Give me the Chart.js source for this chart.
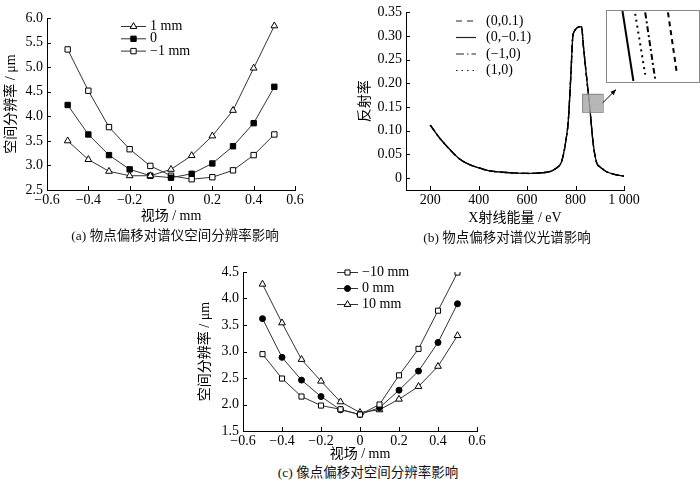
<!DOCTYPE html>
<html><head><meta charset="utf-8">
<script src="https://cdn.jsdelivr.net/npm/chart.js@4.4.0/dist/chart.umd.min.js"></script>
<style>
body{margin:0;background:#fff;width:700px;height:481px;position:relative;overflow:hidden;}
.c{position:absolute;}
.cap{position:absolute;font-family:"Liberation Serif","Noto Sans CJK SC";font-size:13.5px;line-height:16px;color:#111;white-space:nowrap;transform:translate(-50%,-50%);}
#insetBox{position:absolute;left:606px;top:10px;width:94px;height:73px;border:1.5px solid #888;box-sizing:border-box;background:#fff;}
</style></head>
<body>
<div class="c" style="left:0;top:0;"><canvas id="ca" width="320" height="228"></canvas></div>
<div class="c" style="left:340px;top:0;"><canvas id="cb" width="360" height="228"></canvas></div>
<div class="c" style="left:190px;top:258px;"><canvas id="cc" width="310" height="206"></canvas></div>
<div id="insetBox"><canvas id="ci" width="91" height="70"></canvas></div>
<div class="cap" style="left:175px;top:236px;">(a) 物点偏移对谱仪空间分辨率影响</div>
<div class="cap" style="left:507px;top:238px;">(b) 物点偏移对谱仪光谱影响</div>
<div class="cap" style="left:368px;top:473px;">(c) 像点偏移对空间分辨率影响</div>
<script>
// ---------- data ----------
const fieldX = [-0.5,-0.4,-0.3,-0.2,-0.1,0,0.1,0.2,0.3,0.4,0.5];
// (a) object point offset
const objLabels = ["1 mm","0","\u22121 mm"];
const objPlus1  = [3.50,3.12,2.88,2.79,2.79,2.92,3.20,3.60,4.12,4.98,5.84];
const objZero   = [4.23,3.63,3.21,2.92,2.79,2.75,2.83,3.04,3.39,3.86,4.60];
const objMinus1 = [5.36,4.52,3.78,3.33,2.99,2.79,2.72,2.76,2.90,3.21,3.63];
// (c) image point offset
const imgLabels = ["\u221210 mm","0 mm","10 mm"];
const imgMinus10 = [2.95,2.49,2.15,1.98,1.91,1.81,2.00,2.55,3.05,3.77,4.49];
const imgZero    = [3.62,2.89,2.46,2.15,1.90,1.81,1.94,2.27,2.63,3.17,3.90];
const imgPlus10  = [4.27,3.54,2.85,2.44,2.05,1.85,1.90,2.10,2.34,2.72,3.30];
// (b) spectrum
const specLabels = ["(0,0.1)","(0,\u22120.1)","(\u22121,0)","(1,0)"];
const energy = [200,240,280,320,360,400,440,500,560,600,640,680,700,720,740,750,760,770,780,790,825,832,846,860,873,887,900,915,930,960,1000];
const reflect = [0.112,0.084,0.061,0.041,0.029,0.022,0.016,0.0125,0.0105,0.0100,0.0105,0.0125,0.015,0.021,0.032,0.050,0.079,0.121,0.211,0.305,0.320,0.281,0.211,0.142,0.072,0.033,0.024,0.018,0.013,0.008,0.004];
// inset line end points (normalized inset coordinates), order as specLabels
const insetTopX    = [0.67,0.17,0.42,0.31];
const insetTopY    = [0.98,1.00,0.98,0.96];
const insetBottomX = [0.77,0.29,0.53,0.42];
const insetBottomY = [0.09,0.00,0.02,0.09];
// tick values and labels
const fieldTicks = [-0.6,-0.4,-0.2,0,0.2,0.4,0.6];
const fieldTickLabels = ["\u22120.6","\u22120.4","\u22120.2","0","0.2","0.4","0.6"];
const resTicksA = [2.5,3.0,3.5,4.0,4.5,5.0,5.5,6.0];
const resTickLabelsA = ["2.5","3.0","3.5","4.0","4.5","5.0","5.5","6.0"];
const resTicksC = [1.5,2.0,2.5,3.0,3.5,4.0,4.5];
const resTickLabelsC = ["1.5","2.0","2.5","3.0","3.5","4.0","4.5"];
const energyTicks = [200,400,600,800,1000];
const energyTickLabels = ["200","400","600","800","1 000"];
const reflTicks = [0,0.05,0.10,0.15,0.20,0.25,0.30,0.35];
const reflTickLabels = ["0","0.05","0.10","0.15","0.20","0.25","0.30","0.35"];
// zoom region (b)
const zoomRegion = {x0:827, x1:912, y0:0.140, y1:0.178};
const arrowFrom = {x:912, y:0.159};
const arrowTo = {x:967, y:0.187};

// ---------- helpers ----------
const FAM = '"Liberation Serif", "Noto Sans CJK SC", serif';
Chart.defaults.font.family = FAM;
Chart.defaults.color = '#000';

function drawMarker(ctx, style, r, x, y, fill){
  ctx.save();
  ctx.fillStyle = fill; ctx.strokeStyle = '#000'; ctx.lineWidth = 1; ctx.setLineDash([]);
  ctx.beginPath();
  if(style==='triangle'){
    ctx.moveTo(x, y - r);
    ctx.lineTo(x + r*Math.sin(Math.PI/3), y + r/2);
    ctx.lineTo(x - r*Math.sin(Math.PI/3), y + r/2);
    ctx.closePath();
  } else if(style==='rect'){
    const s = r*Math.SQRT1_2;
    ctx.rect(x-s, y-s, 2*s, 2*s);
  } else {
    ctx.arc(x, y, r, 0, Math.PI*2);
  }
  ctx.fill(); ctx.stroke();
  ctx.restore();
}

const insideTicks = {
  id:'insideTicks',
  afterDraw(chart, args, opts){
    if(!opts || !opts.enabled) return;
    const ctx = chart.ctx, len = opts.len || 4;
    const xs = chart.scales.x, ys = chart.scales.y;
    ctx.save(); ctx.strokeStyle = '#000'; ctx.lineWidth = 1;
    xs.ticks.forEach(t=>{
      const p = Math.round(xs.getPixelForValue(t.value)) + 0.5;
      ctx.beginPath(); ctx.moveTo(p, xs.top); ctx.lineTo(p, xs.top - len); ctx.stroke();
    });
    ys.ticks.forEach(t=>{
      const p = Math.round(ys.getPixelForValue(t.value)) + 0.5;
      ctx.beginPath(); ctx.moveTo(ys.right, p); ctx.lineTo(ys.right + len, p); ctx.stroke();
    });
    ctx.restore();
  }
};

const insideLegend = {
  id:'insideLegend',
  afterDraw(chart, args, opts){
    if(!opts || !opts.enabled) return;
    const ctx = chart.ctx;
    chart.data.datasets.forEach((ds, i)=>{
      const y = opts.y + i*opts.dy;
      ctx.save();
      ctx.strokeStyle = ds.legendColor || ds.borderColor;
      ctx.lineWidth = ds.legendWidth || ds.borderWidth;
      ctx.setLineDash(ds.borderDash || []);
      ctx.beginPath(); ctx.moveTo(opts.x, y); ctx.lineTo(opts.x + opts.len, y); ctx.stroke();
      ctx.restore();
      if(ds.pointRadius > 0){
        drawMarker(ctx, ds.pointStyle, ds.pointRadius, opts.x + opts.len/2, y, ds.pointBackgroundColor);
      }
      ctx.save();
      ctx.fillStyle = '#000'; ctx.font = opts.font; ctx.textBaseline = 'middle'; ctx.textAlign = 'left';
      ctx.fillText(ds.label, opts.x + opts.len + opts.gap, y);
      ctx.restore();
    });
  }
};

const zoomMark = {
  id:'zoomMark',
  afterDatasetsDraw(chart, args, opts){
    if(!opts || !opts.enabled) return;
    const ctx = chart.ctx, xs = chart.scales.x, ys = chart.scales.y;
    const x0 = xs.getPixelForValue(zoomRegion.x0), x1 = xs.getPixelForValue(zoomRegion.x1);
    const y0 = ys.getPixelForValue(zoomRegion.y0), y1 = ys.getPixelForValue(zoomRegion.y1);
    ctx.save();
    ctx.fillStyle = 'rgba(170,170,170,0.85)'; ctx.strokeStyle = '#8a8a8a'; ctx.lineWidth = 1;
    ctx.fillRect(x0, y1, x1-x0, y0-y1); ctx.strokeRect(x0+0.5, y1+0.5, x1-x0, y0-y1);
    const ax = xs.getPixelForValue(arrowFrom.x), ay = ys.getPixelForValue(arrowFrom.y);
    const bx = xs.getPixelForValue(arrowTo.x), by = ys.getPixelForValue(arrowTo.y);
    ctx.strokeStyle = '#000'; ctx.fillStyle = '#000';
    ctx.beginPath(); ctx.moveTo(ax, ay); ctx.lineTo(bx, by); ctx.stroke();
    const ang = Math.atan2(by-ay, bx-ax), h = 6;
    ctx.beginPath(); ctx.moveTo(bx, by);
    ctx.lineTo(bx - h*Math.cos(ang-0.4), by - h*Math.sin(ang-0.4));
    ctx.lineTo(bx - h*Math.cos(ang+0.4), by - h*Math.sin(ang+0.4));
    ctx.closePath(); ctx.fill();
    ctx.restore();
  }
};
Chart.register(insideTicks, insideLegend, zoomMark);

function markerDS(label, xs, ys, style, r, fill){
  return {
    label, data: xs.map((x,i)=>({x, y: ys[i]})),
    borderColor:'#333', borderWidth:1, pointStyle:style, pointRadius:r, pointHoverRadius:r,
    pointBackgroundColor:fill, pointBorderColor:'#000', pointBorderWidth:1, tension:0
  };
}

function axes(xmin, xmax, xTicks, xLabels, ymin, ymax, yTicks, yLabels, xTitle, yTitle, yw, xh, ytPad, xtPad){
  const font = {family:FAM, size:14};
  return {
    x:{type:'linear', min:xmin, max:xmax,
       afterBuildTicks: s=>{ s.ticks = xTicks.map(v=>({value:v})); },
       afterFit: s=>{ s.height = xh; },
       ticks:{autoSkip:false, maxRotation:0, padding:2, font, color:'#000', callback:(v,i)=>xLabels[i]},
       grid:{display:false, drawTicks:false}, border:{display:true, color:'#000', width:1},
       title:{display:true, text:xTitle, font, color:'#000', padding:{top:0,bottom:xtPad}}},
    y:{type:'linear', min:ymin, max:ymax,
       afterBuildTicks: s=>{ s.ticks = yTicks.map(v=>({value:v})); },
       afterFit: s=>{ s.width = yw; },
       ticks:{autoSkip:false, padding:4, font, color:'#000', callback:(v,i)=>yLabels[i]},
       grid:{display:false, drawTicks:false}, border:{display:true, color:'#000', width:1},
       title:{display:true, text:yTitle, font, color:'#000', padding:{top:ytPad,bottom:0}}}
  };
}

const common = {responsive:false, animation:false, events:[]};

// (a)
new Chart(document.getElementById('ca'), {
  type:'line',
  data:{datasets:[
    markerDS(objLabels[0], fieldX, objPlus1, 'triangle', 3.9, '#fff'),
    markerDS(objLabels[1], fieldX, objZero, 'rect', 3.8, '#000'),
    markerDS(objLabels[2], fieldX, objMinus1, 'rect', 3.8, '#fff')
  ]},
  options:Object.assign({}, common, {
    layout:{padding:{left:0, top:18, right:25, bottom:0}},
    scales: axes(-0.6, 0.6, fieldTicks, fieldTickLabels, 2.5, 6.0, resTicksA, resTickLabelsA, '视场 / mm', '空间分辨率 / μm', 47, 38, 3, 3),
    plugins:{legend:{display:false}, tooltip:{enabled:false},
      insideTicks:{enabled:true, len:4},
      insideLegend:{enabled:true, x:121, y:26.5, dy:12.3, len:25, gap:4, font:'14px '+FAM}}
  })
});

// (c)
new Chart(document.getElementById('cc'), {
  type:'line',
  data:{datasets:[
    markerDS(imgLabels[0], fieldX, imgMinus10, 'rect', 3.6, '#fff'),
    markerDS(imgLabels[1], fieldX, imgZero, 'circle', 3.0, '#000'),
    markerDS(imgLabels[2], fieldX, imgPlus10, 'triangle', 3.9, '#fff')
  ]},
  options:Object.assign({}, common, {
    layout:{padding:{left:0, top:14, right:23, bottom:0}},
    scales: axes(-0.6, 0.6, fieldTicks, fieldTickLabels, 1.5, 4.5, resTicksC, resTickLabelsC, '视场 / mm', '空间分辨率 / μm', 53, 33, 7, 1),
    plugins:{legend:{display:false}, tooltip:{enabled:false},
      insideTicks:{enabled:true, len:4},
      insideLegend:{enabled:true, x:147, y:14.5, dy:16, len:21, gap:4, font:'14px '+FAM}}
  })
});

// (b)
const specStyles = [
  {dash:[6,5], w:1.3, order:2},
  {dash:[], w:1.3, order:0},
  {dash:[8,3,1.5,3], w:1.3, order:3},
  {dash:[1.5,4], w:1.5, order:1}
];
new Chart(document.getElementById('cb'), {
  type:'line',
  data:{datasets: specLabels.map((lab,i)=>({
    label:lab, data: energy.map((e,k)=>({x:e, y:reflect[k]})),
    borderColor:'#000', borderWidth:specStyles[i].w, borderDash:specStyles[i].dash,
    pointRadius:0, cubicInterpolationMode:'monotone', order:specStyles[i].order,
    legendColor:'#222', legendWidth:1.2
  }))},
  options:Object.assign({}, common, {
    layout:{padding:{left:0, top:10, right:76, bottom:0}},
    scales: axes(100, 1000, energyTicks, energyTickLabels, -0.025, 0.35, reflTicks, reflTickLabels, 'X射线能量 / eV', '反射率', 66, 38, 17, 1),
    plugins:{legend:{display:false}, tooltip:{enabled:false},
      insideTicks:{enabled:true, len:4},
      insideLegend:{enabled:true, x:116, y:21, dy:16.5, len:20, gap:10, font:'14px '+FAM},
      zoomMark:{enabled:true}}
  })
});

// inset of (b)
const insetStyles = [
  {dash:[5,4], w:2},
  {dash:[], w:2},
  {dash:[6,3,2,3], w:2},
  {dash:[2,4], w:2}
];
new Chart(document.getElementById('ci'), {
  type:'scatter',
  data:{datasets: specLabels.map((lab,i)=>({
    label:lab, data:[{x:insetTopX[i], y:insetTopY[i]},{x:insetBottomX[i], y:insetBottomY[i]}],
    showLine:true, borderColor:'#000', borderWidth:insetStyles[i].w, borderDash:insetStyles[i].dash,
    pointRadius:0
  }))},
  options:Object.assign({}, common, {
    layout:{padding:0},
    scales:{x:{type:'linear', min:0, max:1, display:false}, y:{type:'linear', min:0, max:1, display:false}},
    plugins:{legend:{display:false}, tooltip:{enabled:false}}
  })
});
</script>
</body></html>
